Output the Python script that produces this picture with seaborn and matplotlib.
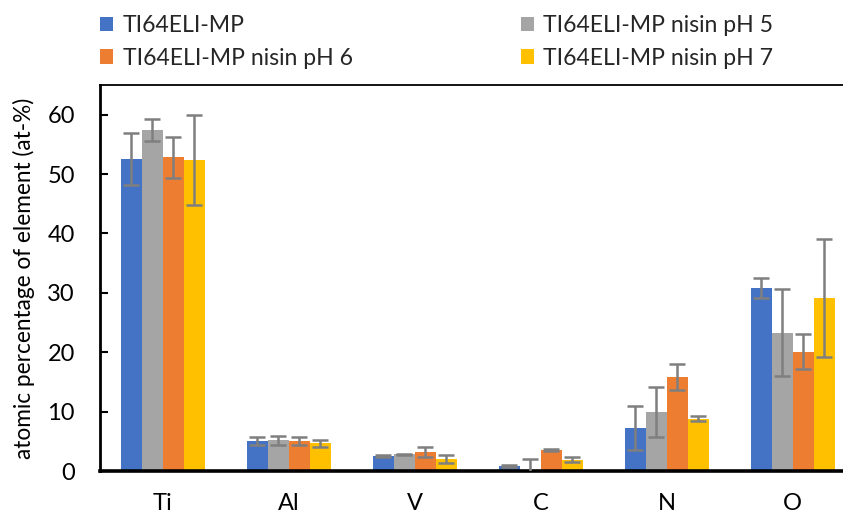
import numpy as np
import pandas as pd
import seaborn as sns
import matplotlib.pyplot as plt
from matplotlib.patches import Patch

# Elements and sample series
elements = ['Ti', 'Al', 'V', 'C', 'N', 'O']
series = ['TI64ELI-MP', 'TI64ELI-MP nisin pH 5', 'TI64ELI-MP nisin pH 6', 'TI64ELI-MP nisin pH 7']

mp_vals = [52.6, 5.0, 2.5, 0.8, 7.3, 30.8]
ph5_vals = [57.4, 5.2, 2.8, 0.05, 9.9, 23.3]
ph6_vals = [52.8, 5.1, 3.2, 3.5, 15.9, 20.1]
ph7_vals = [52.4, 4.7, 2.0, 1.9, 8.8, 29.1]

mp_err = [4.4, 0.7, 0.15, 0.2, 3.7, 1.65]
ph5_err = [1.9, 0.75, 0.1, 1.9, 4.25, 7.3]
ph6_err = [3.5, 0.65, 0.85, 0.15, 2.2, 2.9]
ph7_err = [7.6, 0.6, 0.72, 0.45, 0.45, 9.9]

colors = ['#4472C4', '#A5A5A5', '#ED7D31', '#FFC000']

values = [mp_vals, ph5_vals, ph6_vals, ph7_vals]
errors = [mp_err, ph5_err, ph6_err, ph7_err]

df = pd.DataFrame({
    'element': np.tile(elements, len(series)),
    'sample': np.repeat(series, len(elements)),
    'value': np.concatenate(values),
})

sns.set_theme(style='white')
plt.rcParams['font.family'] = ['Lato', 'DejaVu Sans']

fig = plt.figure(figsize=(8.43, 5.16), dpi=100)
ax = fig.add_axes([100 / 843, 45 / 516, 743 / 843, 386 / 516])

sns.barplot(data=df, x='element', y='value', hue='sample', order=elements,
            hue_order=series, palette=colors, width=0.667, errorbar=None,
            saturation=1, edgecolor='none', ax=ax)

# Error bars placed on the bars seaborn drew
for cont, err in zip(ax.containers, errors):
    xs = [b.get_x() + b.get_width() / 2 for b in cont]
    ys = [b.get_height() for b in cont]
    ax.errorbar(xs, ys, yerr=err, fmt='none', ecolor='#7F7F7F',
                elinewidth=1.8, capsize=6, capthick=1.8, zorder=3)

ax.set_ylim(0, 65)
ax.set_xlim(-0.5, 5.4)
ax.set_yticks(range(0, 61, 10))
ax.set_xlabel('')
ax.set_ylabel('atomic percentage of element (at-%)', fontsize=16.3, color='black')
ax.yaxis.set_label_coords(-0.087, 0.5)

ax.tick_params(axis='y', direction='in', length=6, width=1.5, pad=18,
               labelsize=17, colors='black', left=True)
ax.tick_params(axis='x', length=0, pad=16, labelsize=17, colors='black')

ax.spines['left'].set_linewidth(2)
ax.spines['bottom'].set_linewidth(2.6)
ax.spines['top'].set_linewidth(1.3)
ax.spines['right'].set_visible(False)
for s in ['left', 'bottom', 'top']:
    ax.spines[s].set_color('black')

# Legend: 2 columns above the plot, MP / pH 6 in first column
ax.get_legend().remove()
order = [0, 2, 1, 3]
handles = [Patch(facecolor=colors[i], edgecolor='none') for i in order]
labels = [series[i] for i in order]
fig.legend(handles, labels, ncol=2, loc='upper left',
           bbox_to_anchor=(100 / 843, 1 - 15 / 516), frameon=False,
           fontsize=16.6, handlelength=0.58, handleheight=0.58, handletextpad=0.4,
           columnspacing=7.3, labelspacing=0.5, borderpad=0, borderaxespad=0)

fig.savefig('out.png', dpi=100)
